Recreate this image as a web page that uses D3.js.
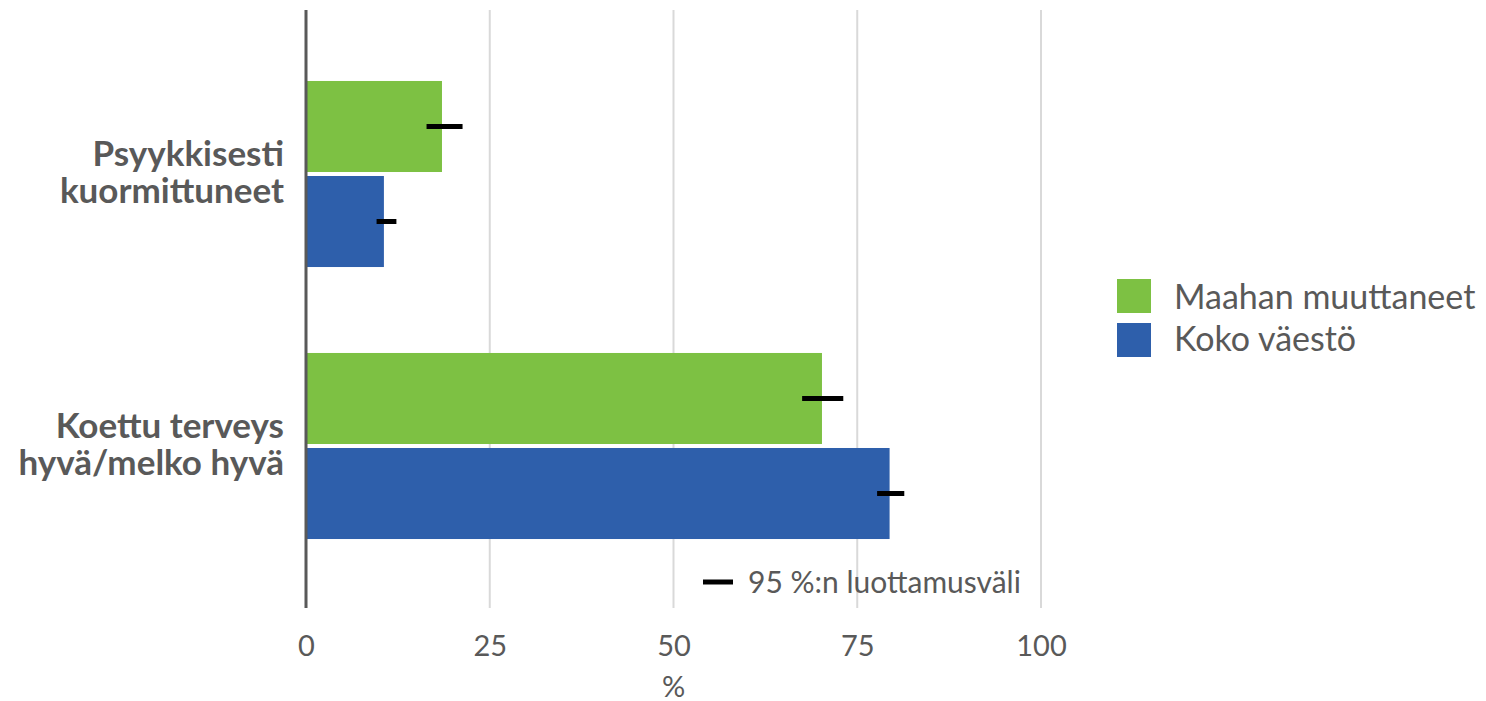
<!DOCTYPE html>
<html>
<head>
<meta charset="utf-8">
<script src="https://cdn.jsdelivr.net/npm/d3@7"></script>
<style>
  body { margin: 0; background: #fff; }
  svg text { font-family: Lato, "Noto Sans", sans-serif; fill: #595959; }
</style>
</head>
<body>
<div id="chart"></div>
<script>
// data
const categories = ["Psyykkisesti kuormittuneet", "Koettu terveys hyvä/melko hyvä"];
const categoryLines = [["Psyykkisesti", "kuormittuneet"], ["Koettu terveys", "hyvä/melko hyvä"]];
const series = ["Maahan muuttaneet", "Koko väestö"];
const values = [[18.5, 10.6], [70.2, 79.4]];
const ciLow = [[16.4, 9.6], [67.5, 77.7]];
const ciHigh = [[21.3, 12.3], [73.1, 81.4]];
const xTicks = [0, 25, 50, 75, 100];
const colors = ["#7dc143", "#2e5fab"];

const width = 1486, height = 701;

const svg = d3.select("#chart")
    .append("svg")
    .attr("width", width)
    .attr("height", height);

let x = d3.scaleLinear().domain([0, 100]).range([306, 1041]);

let y = d3.scaleBand()
    .domain(categories)
    .range([38, 582])
    .paddingInner(0.316)
    .paddingOuter(0.158);

let ySub = d3.scaleBand()
    .domain(series)
    .range([0, y.bandwidth()])
    .paddingInner(0.042);

// gridlines
svg.append("g")
    .selectAll("line")
    .data(xTicks.slice(1))
    .enter().append("line")
    .attr("x1", d => x(d)).attr("x2", d => x(d))
    .attr("y1", 10).attr("y2", 608)
    .attr("stroke", "#d9d9d9")
    .attr("stroke-width", 2);

// bars
let rows = [];
categories.forEach((c, i) => {
    series.forEach((s, j) => {
        rows.push({cat: c, ser: s, v: values[i][j], lo: ciLow[i][j], hi: ciHigh[i][j], col: colors[j]});
    });
});

svg.append("g")
    .selectAll("rect")
    .data(rows)
    .enter().append("rect")
    .attr("x", x(0))
    .attr("y", d => y(d.cat) + ySub(d.ser))
    .attr("width", d => x(d.v) - x(0))
    .attr("height", ySub.bandwidth())
    .attr("fill", d => d.col);

// confidence intervals
svg.append("g")
    .selectAll("line")
    .data(rows)
    .enter().append("line")
    .attr("x1", d => x(d.lo)).attr("x2", d => x(d.hi))
    .attr("y1", d => y(d.cat) + ySub(d.ser) + ySub.bandwidth() / 2)
    .attr("y2", d => y(d.cat) + ySub(d.ser) + ySub.bandwidth() / 2)
    .attr("stroke", "#000")
    .attr("stroke-width", 5);

// y axis line
svg.append("line")
    .attr("x1", x(0)).attr("x2", x(0))
    .attr("y1", 10).attr("y2", 608)
    .attr("stroke", "#595959")
    .attr("stroke-width", 3);

// x axis tick labels
let xAxis = svg.append("g")
    .attr("transform", "translate(0,608)")
    .call(d3.axisBottom(x).tickValues(xTicks).tickSize(0).tickPadding(27));
xAxis.select(".domain").remove();
xAxis.selectAll("text")
    .style("font-size", "29px")
    .attr("fill", "#595959")
    .style("font-family", "Lato, 'Noto Sans', sans-serif");

svg.append("text")
    .attr("x", x(50))
    .attr("y", 697)
    .attr("text-anchor", "middle")
    .style("font-size", "29px")
    .text("%");

// category labels
categories.forEach((c, i) => {
    let cy = y(c) + y.bandwidth() / 2;
    let t = svg.append("text")
        .attr("text-anchor", "end")
        .style("font-size", "35px")
        .style("font-weight", "bold");
    categoryLines[i].forEach((line, k) => {
        t.append("tspan")
            .attr("x", 284)
            .attr("y", cy - 8 + k * 37)
            .text(line);
    });
});

// legend
let legend = svg.append("g");
series.forEach((s, j) => {
    legend.append("rect")
        .attr("x", 1117).attr("y", 279 + j * 44)
        .attr("width", 34).attr("height", 34)
        .attr("fill", colors[j]);
    legend.append("text")
        .attr("x", 1174).attr("y", 309 + j * 42)
        .style("font-size", "34px")
        .text(s);
});

// CI legend
svg.append("line")
    .attr("x1", 703).attr("x2", 733)
    .attr("y1", 582).attr("y2", 582)
    .attr("stroke", "#000")
    .attr("stroke-width", 5);
svg.append("text")
    .attr("x", 748).attr("y", 593)
    .style("font-size", "30px")
    .text("95 %:n luottamusväli");
</script>
</body>
</html>
